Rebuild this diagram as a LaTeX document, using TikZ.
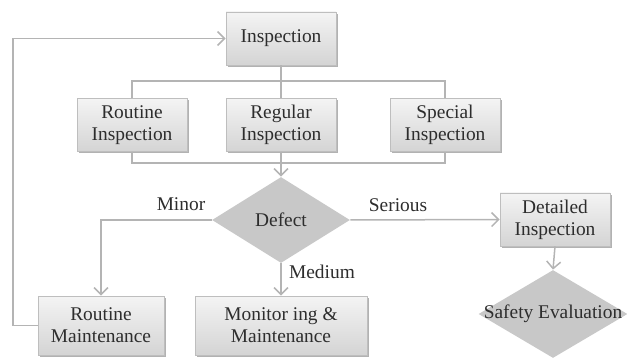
\documentclass[tikz,border=0pt]{standalone}
\usepackage{fontspec}
\setmainfont{Liberation Serif}
\usetikzlibrary{arrows.meta, positioning, shapes.geometric, shadows}
\definecolor{linegray}{RGB}{180,180,180}
\definecolor{boxedge}{RGB}{190,190,190}
\definecolor{boxtop}{RGB}{244,244,244}
\definecolor{boxbottom}{RGB}{212,212,212}
\definecolor{diamondfill}{RGB}{200,200,200}
\definecolor{textgray}{RGB}{45,45,45}

\tikzset{
  box/.style={draw=boxedge, top color=boxtop, bottom color=boxbottom,
    align=center, inner sep=1pt, minimum width=55pt, minimum height=26.5pt,
    drop shadow={shadow xshift=0.8pt, shadow yshift=-0.8pt, opacity=0.3, fill=black},
    font=\fontsize{9.7}{11}\selectfont, text=textgray},
  decision/.style={diamond, fill=diamondfill, inner sep=0pt,
    font=\fontsize{9.7}{11}\selectfont, text=textgray},
  link/.style={draw=linegray, line width=0.75pt},
  arrow/.style={link, -{Straight Barb[length=3.5pt, width=7pt]}},
  branch/.style={font=\fontsize{9.7}{11}\selectfont, text=textgray}
}

\begin{document}
\begin{tikzpicture}[x=0.5pt, y=-0.5pt]
\useasboundingbox (0,0) rectangle (627,358);

\node[box] (insp) at (281,38.5) {Inspection};
\node[box] (routine) at (132,125) {Routine\\Inspection};
\node[box] (regular) at (281,125) {Regular\\Inspection};
\node[box] (special) at (445,125) {Special\\Inspection};
\node[decision, minimum width=69pt, minimum height=43pt] (defect) at (281,220) {};
\node[text=textgray, font=\fontsize{9.7}{11}\selectfont] at (defect) {Defect};
\node[box, minimum width=63pt, minimum height=29.5pt] (rmaint) at (101,325.5) {Routine\\Maintenance};
\node[box, minimum width=86pt, minimum height=29.5pt] (monitor) at (281,325.5) {Monitor ing \&\\Maintenance};
\node[box] (detailed) at (555,219.5) {Detailed\\Inspection};
\node[decision, minimum width=74.5pt, minimum height=44pt] (safety) at (553,314) {};
\node[text=textgray, font=\fontsize{9.7}{11}\selectfont] at (safety) {Safety Evaluation};

\coordinate (topbus) at (281,81);
\coordinate (botbus) at (281,163);
\coordinate (loopB) at (13,325.5);
\coordinate (loopT) at (13,38.5);

% inspection types
\draw[link] (insp.south) -- (regular.north);
\draw[link] (routine.north) |- (topbus) -| (special.north);
\draw[link] (routine.south) |- (botbus) -| (special.south);
\draw[arrow] (regular.south) -- (defect.north);

% defect branches
\draw[arrow] (defect.west) -| (rmaint.north);
\draw[arrow] (defect.south) -- (monitor.north);
\draw[arrow] (defect.east) -- (detailed.west);
\draw[arrow] (detailed.south) -- (safety.north);
\node[branch] (minor) at (181,204) {Minor};
\node[branch] (medium) at (322,272) {Medium};
\node[branch] (serious) at (398,205) {Serious};

% feedback
\draw[arrow] (rmaint.west) -- (loopB) -- (loopT) -- (insp.west);
\end{tikzpicture}
\end{document}
